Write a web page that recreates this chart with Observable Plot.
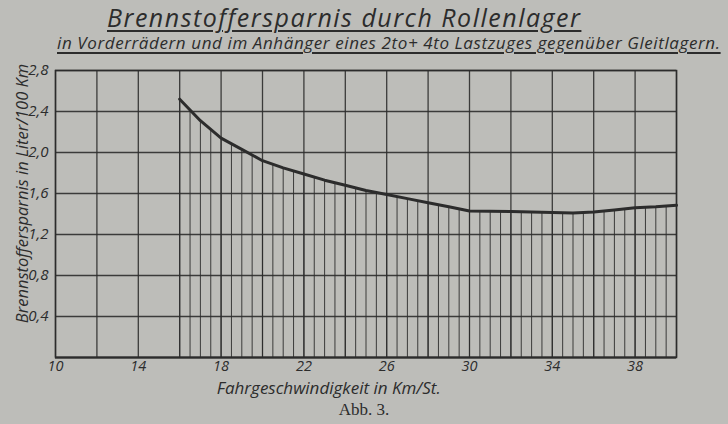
<!DOCTYPE html>
<html>
<head>
<meta charset="utf-8">
<script src="https://cdn.jsdelivr.net/npm/d3@7"></script>
<script src="https://cdn.jsdelivr.net/npm/@observablehq/plot@0.6"></script>
<style>
  html, body { margin: 0; padding: 0; background: #bdbdb9; }
  #wrap { position: relative; width: 728px; height: 424px; background: #bdbdb9; overflow: hidden; color: #2c2c2c; }
  .hand { font-family: "Open Sans", "DejaVu Sans", sans-serif; font-style: italic; }
  #title { position: absolute; left: 107px; top: 0px; font-size: 25px; letter-spacing: 1.5px; text-decoration: underline; text-decoration-thickness: 1.5px; text-underline-offset: 3px; white-space: nowrap; }
  #subtitle { position: absolute; left: 57px; top: 31px; font-size: 17px; letter-spacing: 0.6px; text-decoration: underline; text-decoration-thickness: 1.5px; text-underline-offset: 3px; white-space: nowrap; }
  #chart { position: absolute; left: 0; top: 58px; }
  #caption { position: absolute; left: 0; width: 728px; top: 400px; text-align: center; font-family: "Liberation Serif", serif; font-size: 17px; line-height: 20px; }
</style>
</head>
<body>
<div id="wrap">
  <div id="title" class="hand">Brennstoffersparnis durch Rollenlager</div>
  <div id="subtitle" class="hand">in Vorderrädern und im Anhänger eines 2to+ 4to Lastzuges gegenüber Gleitlagern.</div>
  <div id="chart"></div>
  <div id="caption">Abb. 3.</div>
</div>
<script>
// speed (km/h) and fuel saving (litre / 100 km)
const speed  = [16, 17, 18, 19, 20, 21, 22, 23, 24, 25, 26, 27, 28, 29, 30, 32, 34, 35, 36, 37, 38, 39, 40];
const saving = [2.52, 2.31, 2.14, 2.03, 1.92, 1.85, 1.79, 1.73, 1.68, 1.63, 1.59, 1.55, 1.51, 1.47, 1.43, 1.425, 1.415, 1.41, 1.42, 1.44, 1.46, 1.47, 1.485];
// grid and tick positions
const xGrid = [10, 12, 14, 16, 18, 20, 22, 24, 26, 28, 30, 32, 34, 36, 38, 40];
const yGrid = [0, 0.4, 0.8, 1.2, 1.6, 2.0, 2.4, 2.8];
const xTicks = [10, 14, 18, 22, 26, 30, 34, 38];
const yTicks = [0.4, 0.8, 1.2, 1.6, 2.0, 2.4, 2.8];
const hatchX = d3.range(16, 40.001, 0.5);
const xLabel = "Fahrgeschwindigkeit in Km/St.";
const yLabel = "Brennstoffersparnis in Liter/100 Km";

const paper = "#bdbdb9";
const ink = "#2c2c2c";
const data = speed.map((s, i) => ({speed: s, saving: saving[i]}));

const chart = Plot.plot({
  width: 728,
  height: 342,
  marginLeft: 55,
  marginRight: 52,
  marginTop: 12,
  marginBottom: 43,
  style: {background: "transparent", color: ink, fontFamily: "'Open Sans', sans-serif", fontStyle: "italic", fontSize: "14px", overflow: "visible"},
  x: {domain: [10, 40]},
  y: {domain: [0, 2.8]},
  marks: [
    Plot.ruleX(hatchX, {y1: 0, y2: 2.8, stroke: ink, strokeWidth: 1, strokeOpacity: 0.9}),
    Plot.areaY(data, {x: "speed", y1: "saving", y2: 2.8, fill: paper, curve: "linear"}),
    Plot.ruleX(xGrid, {stroke: ink, strokeWidth: 1.3, strokeOpacity: 0.9}),
    Plot.ruleY(yGrid, {stroke: ink, strokeWidth: 1.3, strokeOpacity: 0.9}),
    Plot.line(data, {x: "speed", y: "saving", stroke: ink, strokeWidth: 3, strokeLinejoin: "round", strokeLinecap: "round"}),
    Plot.frame({stroke: ink, strokeWidth: 1.5}),
    Plot.ruleY([0], {stroke: ink, strokeWidth: 2.2}),
    Plot.axisX({ticks: xTicks, tickSize: 0, tickPadding: 3, fontSize: 14.5, label: null}),
    Plot.axisY({ticks: yTicks, tickSize: 0, tickPadding: 7, fontSize: 15, tickFormat: d => d.toFixed(1).replace(".", ","), label: null}),
    Plot.text([xLabel], {x: 23.2, frameAnchor: "bottom", dy: 31, lineAnchor: "middle", textAnchor: "middle", text: d => d, fontSize: 17, fill: ink}),
    Plot.text([yLabel], {y: 1.6, frameAnchor: "left", dx: -33, rotate: -90, textAnchor: "middle", lineAnchor: "middle", text: d => d, fontSize: 16.5, fill: ink})
  ]
});
document.getElementById("chart").appendChild(chart);
</script>
</body>
</html>
